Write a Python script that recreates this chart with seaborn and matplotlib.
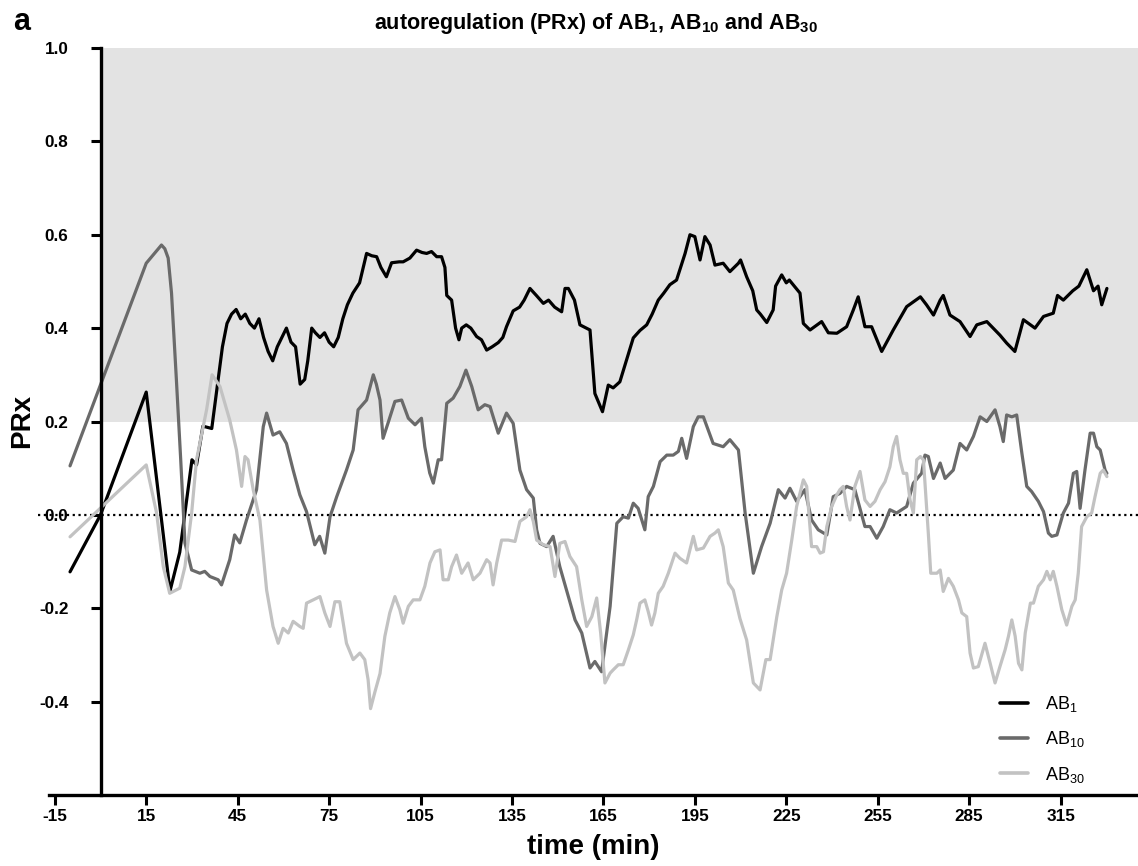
import numpy as np
import pandas as pd
import matplotlib
matplotlib.use("Agg")
import matplotlib.pyplot as plt
import seaborn as sns

# ---- data (time in min, PRx) ----
ab1_t = [-10, 0, 15, 22.8, 26, 30, 31.5, 33.6, 36.5, 38.6, 40, 41.5, 43, 44.5, 46, 47.5,
         49, 50.5, 52, 53.5, 55, 56.5, 58, 59.5, 61, 62.5, 64, 65.5, 67, 68, 69.3, 70.5,
         72, 73.5, 75, 76.5, 78, 79.5, 81, 82.8, 85, 87.3, 89, 90.6, 92, 93.8, 95.5, 98,
         99.3, 101.5, 103.7, 105.5, 107, 108.6, 110.3, 111.9, 113, 113.6, 115.2, 116.5,
         117.6, 118.5, 120, 121.5, 123.4, 125, 126.7, 128.5, 130.5, 132, 133.2, 135.4,
         137.5, 139, 140.9, 143, 145.3, 147, 149, 151.3, 152.4, 153.5, 155.5, 157.3,
         160.6, 162.2, 164.7, 166.6, 168.2, 170.4, 172.6, 174.8, 177, 179.2, 181, 183,
         184.8, 186.8, 189, 191.8, 193.4, 195, 196.7, 198.3, 200, 201.6, 204.3, 206.5,
         209.3, 210, 212, 214, 215.3, 216.5, 218.6, 220.7, 221.5, 223.5, 225, 226, 229.5,
         230.6, 232.8, 236.6, 238.8, 241.6, 244.8, 247, 248.6, 250.8, 253, 256.3, 260.1,
         264.5, 269, 271, 273.3, 275.5, 276.5, 278.7, 282, 285.3, 287.5, 290.8, 295.1,
         297.3, 300, 302.8, 306.6, 309.4, 312.6, 314, 315.9, 319, 321, 323.6, 325.8,
         327.3, 328.5, 330.2]
ab1_v = [-0.122, 0.0, 0.263, -0.163, -0.08, 0.118, 0.107, 0.19, 0.185, 0.29, 0.36, 0.41,
         0.43, 0.44, 0.42, 0.43, 0.41, 0.40, 0.42, 0.38, 0.35, 0.33, 0.36, 0.38, 0.40,
         0.37, 0.36, 0.28, 0.29, 0.33, 0.40, 0.39, 0.38, 0.39, 0.37, 0.36, 0.38, 0.42,
         0.45, 0.475, 0.497, 0.56, 0.555, 0.553, 0.53, 0.51, 0.54, 0.542, 0.542, 0.55,
         0.567, 0.562, 0.56, 0.564, 0.553, 0.553, 0.53, 0.47, 0.46, 0.40, 0.375, 0.40,
         0.407, 0.40, 0.382, 0.375, 0.353, 0.36, 0.369, 0.38, 0.403, 0.437, 0.445, 0.46,
         0.485, 0.47, 0.453, 0.46, 0.445, 0.435, 0.485, 0.485, 0.46, 0.407, 0.396, 0.26,
         0.221, 0.278, 0.272, 0.285, 0.332, 0.379, 0.395, 0.407, 0.43, 0.46, 0.475,
         0.493, 0.503, 0.56, 0.60, 0.596, 0.546, 0.596, 0.578, 0.535, 0.539, 0.521,
         0.539, 0.546, 0.51, 0.48, 0.439, 0.43, 0.412, 0.439, 0.49, 0.514, 0.497, 0.503,
         0.475, 0.41, 0.396, 0.414, 0.39, 0.389, 0.403, 0.439, 0.467, 0.403, 0.403, 0.35,
         0.396, 0.446, 0.467, 0.45, 0.428, 0.46, 0.47, 0.428, 0.414, 0.382, 0.407, 0.414,
         0.385, 0.368, 0.35, 0.418, 0.40, 0.425, 0.432, 0.47, 0.46, 0.48, 0.49, 0.525,
         0.48, 0.49, 0.45, 0.485]

ab10_t = [-10, 15, 20, 21.1, 22.2, 23.3, 24.9, 26.3, 27.7, 29.9, 32.6, 34.2, 35.9, 38.6,
          39.7, 42.4, 44, 45.7, 47.9, 51.2, 53.4, 54.5, 56.6, 58.8, 61, 63.2, 65.4, 67.6,
          70.3, 71.9, 73.6, 75.3, 77.5, 80.7, 82.9, 84.5, 87.3, 89.5, 90.5, 91.7, 92.7,
          94.5, 96.6, 98.8, 101, 103.2, 105.3, 106.4, 108, 109.2, 110.8, 111.9, 113.6,
          115.7, 117.9, 119.9, 121.8, 123.9, 126.1, 127.8, 130.5, 133.2, 135.4, 137.6,
          139.8, 142, 143.1, 144.2, 146.4, 148.5, 150.7, 152.9, 155.7, 157.9, 160.6, 162.2,
          164.4, 167.2, 169.4, 171.5, 173.2, 174.8, 176.4, 178.6, 179.7, 181.4, 183.6,
          185.8, 187.9, 189.6, 190.7, 192.3, 194.5, 196.1, 197.8, 201, 204.3, 206.5, 209.3,
          211.5, 214.2, 216.9, 219.7, 222.4, 224.6, 226.2, 228.4, 231.1, 233.3, 235.5,
          238.3, 240.4, 242.6, 244.8, 247.5, 250.8, 252.5, 254.7, 256.8, 259, 261.2, 264.5,
          266.7, 269.4, 270.5, 271.6, 273.3, 275.5, 277.1, 279.8, 282, 284.2, 286.4, 288.6,
          290.8, 293.5, 295.1, 296.2, 297.3, 299, 300.6, 302.3, 303.9, 305.5, 307.7, 309.4,
          311, 312.1, 313.8, 315.9, 317.6, 319.2, 320.3, 321.4, 323, 324.7, 325.8, 326.9,
          328, 329.6, 330.2]
ab10_v = [0.105, 0.539, 0.578, 0.57, 0.55, 0.475, 0.289, 0.12, -0.06, -0.118, -0.125,
          -0.121, -0.132, -0.139, -0.15, -0.096, -0.043, -0.06, -0.011, 0.054, 0.189,
          0.218, 0.171, 0.178, 0.153, 0.096, 0.043, 0.007, -0.064, -0.046, -0.082, -0.004,
          0.039, 0.096, 0.139, 0.225, 0.246, 0.30, 0.28, 0.246, 0.164, 0.20, 0.243, 0.246,
          0.207, 0.193, 0.207, 0.146, 0.09, 0.068, 0.118, 0.118, 0.239, 0.25, 0.275, 0.31,
          0.275, 0.225, 0.236, 0.232, 0.175, 0.218, 0.196, 0.096, 0.054, 0.036, -0.032,
          -0.061, -0.068, -0.046, -0.111, -0.161, -0.225, -0.253, -0.328, -0.314, -0.336,
          -0.196, -0.018, -0.004, -0.007, 0.025, 0.014, -0.032, 0.039, 0.061, 0.114, 0.128,
          0.128, 0.136, 0.164, 0.121, 0.189, 0.21, 0.21, 0.153, 0.146, 0.161, 0.139, 0.004,
          -0.125, -0.068, -0.018, 0.054, 0.036, 0.057, 0.029, 0.054, -0.011, -0.032,
          -0.043, 0.039, 0.046, 0.061, 0.054, -0.025, -0.025, -0.05, -0.025, 0.011, 0.004,
          0.018, 0.068, 0.089, 0.128, 0.125, 0.078, 0.111, 0.078, 0.096, 0.153, 0.139,
          0.168, 0.21, 0.2, 0.225, 0.189, 0.157, 0.214, 0.21, 0.214, 0.132, 0.061, 0.05,
          0.029, 0.007, -0.039, -0.046, -0.043, 0.004, 0.025, 0.089, 0.093, 0.014, 0.096,
          0.175, 0.175, 0.146, 0.139, 0.096, 0.089]

ab30_t = [-10, 15, 18.4, 20.6, 22.7, 26, 27.7, 29.9, 31.5, 34.8, 36.6, 39.2, 42.4, 44.6,
          46.3, 47.4, 48.4, 50.1, 52.3, 54.5, 56.6, 58.3, 59.9, 61.6, 63.2, 65.4, 66.5,
          67.6, 69.8, 72, 73.6, 75.3, 76.9, 78.5, 80.7, 82.9, 85.1, 86.7, 87.8, 88.6, 90,
          91.7, 93.3, 94.9, 96.6, 98.2, 99.3, 101, 102.6, 104.8, 106.4, 108.1, 109.7, 111.4,
          112.4, 114.1, 115.2, 116.8, 118.5, 120.6, 122.3, 124.5, 126.7, 127.8, 128.8, 130,
          131.6, 133.8, 136, 137.6, 139.8, 140.9, 142, 143.1, 145.3, 147.5, 149.1, 150.7,
          152.4, 154, 156.2, 157.9, 159.5, 161.2, 162.8, 164.1, 165.5, 167.2, 168.2, 169.9,
          171.5, 173.2, 174.8, 175.9, 177, 178.6, 179.7, 180.8, 181.9, 183, 184.6, 186.3,
          188.5, 190.1, 192.3, 194.5, 195.6, 197.8, 200, 201.6, 202.7, 204.3, 206, 207.6,
          209.8, 212, 214.2, 216.4, 218.3, 219.7, 221.9, 223.5, 225.1, 226.8, 228.4, 230.6,
          231.7, 233.3, 235, 236.1, 237.2, 238.3, 239.9, 241.6, 242.6, 243.7, 244.8, 245.9,
          247.5, 249.2, 250.8, 252.5, 254.1, 255.8, 257.4, 259, 260.1, 261.2, 262.3, 263.4,
          264.5, 265.6, 266.7, 267.8, 269, 270, 271.6, 272.4, 274.4, 275.5, 276.5, 278.2,
          279.8, 281.5, 282.6, 284.2, 285.3, 286.4, 288, 290.2, 291.9, 293.5, 295.1, 296.8,
          297.9, 299, 300.1, 301.2, 302.3, 303.4, 305.1, 306.1, 307.7, 309.4, 310.5, 311.6,
          312.6, 313.8, 315.4, 317, 318.7, 319.8, 320.8, 321.9, 323.6, 325.2, 326.3, 328,
          329, 330.2]
ab30_v = [-0.047, 0.107, 0.004, -0.111, -0.168, -0.157, -0.111, 0.004, 0.118, 0.225, 0.30,
          0.275, 0.203, 0.139, 0.061, 0.125, 0.118, 0.054, -0.011, -0.161, -0.239, -0.275,
          -0.243, -0.253, -0.228, -0.239, -0.243, -0.189, -0.182, -0.175, -0.21, -0.239,
          -0.186, -0.186, -0.275, -0.31, -0.296, -0.31, -0.353, -0.415, -0.38, -0.34,
          -0.26, -0.21, -0.175, -0.203, -0.232, -0.196, -0.182, -0.182, -0.153, -0.103,
          -0.079, -0.075, -0.139, -0.139, -0.111, -0.086, -0.125, -0.103, -0.139, -0.125,
          -0.096, -0.103, -0.15, -0.103, -0.054, -0.054, -0.057, -0.014, -0.004, 0.011,
          -0.014, -0.054, -0.064, -0.068, -0.132, -0.061, -0.057, -0.089, -0.111, -0.182,
          -0.239, -0.218, -0.178, -0.253, -0.36, -0.339, -0.332, -0.321, -0.321, -0.289,
          -0.257, -0.225, -0.189, -0.182, -0.207, -0.236, -0.21, -0.168, -0.153, -0.125,
          -0.082, -0.093, -0.103, -0.046, -0.075, -0.071, -0.046, -0.039, -0.032, -0.068,
          -0.146, -0.161, -0.222, -0.268, -0.36, -0.375, -0.31, -0.31, -0.218, -0.161,
          -0.125, -0.054, 0.018, 0.075, 0.061, -0.068, -0.068, -0.082, -0.079, -0.025,
          0.018, 0.043, 0.054, 0.061, 0.018, -0.011, 0.061, 0.093, 0.032, 0.018, 0.029,
          0.054, 0.071, 0.103, 0.146, 0.168, 0.118, 0.089, 0.089, 0.032, 0.004, 0.118,
          0.125, 0.118, -0.039, -0.125, -0.125, -0.118, -0.164, -0.136, -0.153, -0.182,
          -0.21, -0.218, -0.296, -0.328, -0.325, -0.275, -0.318, -0.36, -0.325, -0.289,
          -0.26, -0.225, -0.26, -0.318, -0.332, -0.253, -0.189, -0.189, -0.153, -0.139,
          -0.121, -0.139, -0.121, -0.153, -0.203, -0.236, -0.196, -0.182, -0.125, -0.025,
          -0.004, 0.004, 0.039, 0.089, 0.096, 0.082]

series_names = ["AB$_1$", "AB$_{10}$", "AB$_{30}$"]
series_colors = ["#000000", "#6a6a6a", "#c2c2c2"]
x_ticks = [-15, 15, 45, 75, 105, 135, 165, 195, 225, 255, 285, 315]
y_ticks = [-0.4, -0.2, 0.0, 0.2, 0.4, 0.6, 0.8, 1.0]
impaired_band = (0.2, 1.0)

df = pd.concat([
    pd.DataFrame({"time": ab1_t, "PRx": ab1_v, "series": series_names[0]}),
    pd.DataFrame({"time": ab10_t, "PRx": ab10_v, "series": series_names[1]}),
    pd.DataFrame({"time": ab30_t, "PRx": ab30_v, "series": series_names[2]}),
])

sns.set_style("ticks")
plt.rcParams["font.family"] = ["Liberation Sans", "DejaVu Sans"]
plt.rcParams["mathtext.fontset"] = "custom"
plt.rcParams["mathtext.rm"] = "Liberation Sans"
plt.rcParams["mathtext.bf"] = "Liberation Sans:bold"
plt.rcParams["axes.unicode_minus"] = False
for key in ["text.color", "axes.labelcolor", "xtick.color", "ytick.color", "axes.edgecolor"]:
    plt.rcParams[key] = "black"

W, H = 1138, 866
fig = plt.figure(figsize=(W / 100, H / 100), dpi=100)
ax = fig.add_axes([49 / W, 1 - 795 / H, (W - 49) / W, (795 - 48) / H])

xlo, xhi = -16.9, 340.4
ax.set_xlim(xlo, xhi)
ax.set_ylim(-0.6, 1.0)

# shaded zone (impaired autoregulation) and the zero reference line
ax.axhspan(*impaired_band, xmin=(0 - xlo) / (xhi - xlo), xmax=1,
           color="#e3e3e3", lw=0, zorder=0)
ax.axhline(0, xmin=-0.01, xmax=1, color="black", lw=1.6,
           ls=(0, (1, 1.6)), clip_on=False, zorder=1)

sns.lineplot(data=df, x="time", y="PRx", hue="series", estimator=None, sort=False,
             palette=dict(zip(series_names, series_colors)), linewidth=2.3,
             ax=ax, legend=False, zorder=3)

for s in ["top", "right"]:
    ax.spines[s].set_visible(False)
ax.spines["left"].set_position(("data", 0))
for s in ["left", "bottom"]:
    ax.spines[s].set_linewidth(2.4)
    ax.spines[s].set_color("black")
    ax.spines[s].set_zorder(4)

ax.set_xticks(x_ticks)
ax.set_yticks(y_ticks)
ax.set_yticklabels([f"{v:.1f}" for v in y_ticks])
ax.tick_params(axis="both", width=2.2, length=7, labelsize=12.3, colors="black")
ax.tick_params(axis="y", pad=16)
ax.tick_params(axis="x", pad=3)
for lab in ax.get_xticklabels() + ax.get_yticklabels():
    lab.set_fontweight("bold")

ax.set_xlabel("time (min)", fontsize=20, fontweight="bold", labelpad=7)
ax.set_ylabel("PRx", fontsize=20, fontweight="bold", va="center")
ax.yaxis.set_label_coords((22 - 49) / (W - 49), 0.5)

fig.text(596 / W, 1 - 29 / H,
         r"autoregulation (PRx) of AB$_\mathbf{1}$, AB$_\mathbf{10}$ and AB$_\mathbf{30}$",
         ha="center", va="baseline", fontsize=15.5, fontweight="bold")
fig.text(13 / W, 1 - 30 / H, "a", ha="left", va="baseline", fontsize=22, fontweight="bold")

handles = [plt.Line2D([], [], color=c, lw=2.6) for c in series_colors]
ax.legend(handles, series_names, loc="upper left", bbox_to_anchor=(1000 / W, 1 - 694 / H),
          bbox_transform=fig.transFigure, frameon=False, fontsize=13, borderpad=0,
          handlelength=1.55, handletextpad=0.95, labelspacing=0.85, borderaxespad=0)

fig.savefig("out.png", dpi=100)
